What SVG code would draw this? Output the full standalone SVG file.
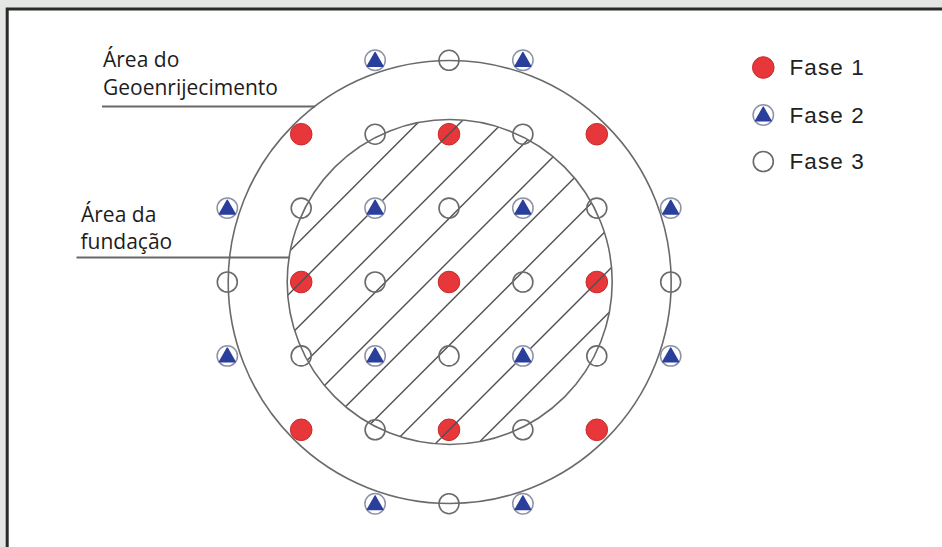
<svg xmlns="http://www.w3.org/2000/svg" width="942" height="547" viewBox="0 0 942 547">
<defs>
<style>
.ring{fill:none;stroke:#6a6a6a;stroke-width:1.6}
.hatch line{stroke:#505050;stroke-width:1.4}
.f1{fill:#e8373a;stroke:#c62b2b;stroke-width:1}
.f3{fill:none;stroke:#6a6a6a;stroke-width:1.6}
.f2c{fill:#fff;stroke:#8d93a6;stroke-width:1.5}
.f2t{fill:#2a3f9c;stroke:#2a3f9c;stroke-width:1.2;stroke-linejoin:round}
.lbl{font-family:"Open Sans","Noto Sans",sans-serif;font-size:21px;fill:#1c1c1c}
.leg{font-family:"Liberation Sans",Arial,sans-serif;font-size:22.5px;fill:#222;letter-spacing:1.1px}
.lead{stroke:#686868;stroke-width:2}
</style>
<clipPath id="innerClip"><circle cx="449.7" cy="282" r="162.5"/></clipPath>
<g id="p1"><circle r="10.8" class="f1"/></g>
<g id="p2"><circle r="10.2" class="f2c"/><path d="M0,-8 L8,6 L-8,6Z" class="f2t"/></g>
<g id="p3"><circle r="10" class="f3"/></g>
</defs>

<g id="frame">
<rect x="0" y="0" width="942" height="547" fill="#e4e6e3"/>
<rect x="7.2" y="9" width="960" height="560" fill="#fff" stroke="#2a2a2a" stroke-width="3"/>
</g>

<g id="area-geoenrijecimento">
<circle class="ring" cx="449.7" cy="282" r="221.5"/>
</g>

<g id="fase1-nodes">
<g id="n-b2"><use href="#p1" x="301.2" y="134.2"/></g>
<g id="n-d2"><use href="#p1" x="449" y="134.2"/></g>
<g id="n-f2"><use href="#p1" x="596.8" y="134.2"/></g>
<g id="n-b4"><use href="#p1" x="301.2" y="282"/></g>
<g id="n-d4"><use href="#p1" x="449" y="282"/></g>
<g id="n-f4"><use href="#p1" x="596.8" y="282"/></g>
<g id="n-b6"><use href="#p1" x="301.2" y="429.8"/></g>
<g id="n-d6"><use href="#p1" x="449" y="429.8"/></g>
<g id="n-f6"><use href="#p1" x="596.8" y="429.8"/></g>
</g>

<g id="area-fundacao">
<g class="hatch" clip-path="url(#innerClip)">
<line x1="200" y1="340.7" x2="700" y2="-159.3"/>
<line x1="200" y1="383" x2="700" y2="-117"/>
<line x1="200" y1="425.3" x2="700" y2="-74.7"/>
<line x1="200" y1="467.6" x2="700" y2="-32.4"/>
<line x1="200" y1="509.9" x2="700" y2="9.9"/>
<line x1="200" y1="552.2" x2="700" y2="52.2"/>
<line x1="200" y1="594.5" x2="700" y2="94.5"/>
<line x1="200" y1="636.8" x2="700" y2="136.8"/>
<line x1="200" y1="679.1" x2="700" y2="179.1"/>
<line x1="200" y1="721.4" x2="700" y2="221.4"/>
</g>
<circle class="ring" cx="449.7" cy="282" r="162.5"/>
</g>

<g id="fase2-nodes">
<g id="n-c1"><use href="#p2" x="375.1" y="60.3"/></g>
<g id="n-e1"><use href="#p2" x="522.9" y="60.3"/></g>
<g id="n-a3"><use href="#p2" x="227.3" y="208.1"/></g>
<g id="n-c3"><use href="#p2" x="375.1" y="208.1"/></g>
<g id="n-e3"><use href="#p2" x="522.9" y="208.1"/></g>
<g id="n-g3"><use href="#p2" x="670.7" y="208.1"/></g>
<g id="n-a5"><use href="#p2" x="227.3" y="355.9"/></g>
<g id="n-c5"><use href="#p2" x="375.1" y="355.9"/></g>
<g id="n-e5"><use href="#p2" x="522.9" y="355.9"/></g>
<g id="n-g5"><use href="#p2" x="670.7" y="355.9"/></g>
<g id="n-c7"><use href="#p2" x="375.1" y="503.7"/></g>
<g id="n-e7"><use href="#p2" x="522.9" y="503.7"/></g>
</g>

<g id="fase3-nodes">
<g id="n-d1"><use href="#p3" x="449" y="60.3"/></g>
<g id="n-c2"><use href="#p3" x="375.1" y="134.2"/></g>
<g id="n-e2"><use href="#p3" x="522.9" y="134.2"/></g>
<g id="n-b3"><use href="#p3" x="301.2" y="208.1"/></g>
<g id="n-d3"><use href="#p3" x="449" y="208.1"/></g>
<g id="n-f3"><use href="#p3" x="596.8" y="208.1"/></g>
<g id="n-a4"><use href="#p3" x="227.3" y="282"/></g>
<g id="n-c4"><use href="#p3" x="375.1" y="282"/></g>
<g id="n-e4"><use href="#p3" x="522.9" y="282"/></g>
<g id="n-g4"><use href="#p3" x="670.7" y="282"/></g>
<g id="n-b5"><use href="#p3" x="301.2" y="355.9"/></g>
<g id="n-d5"><use href="#p3" x="449" y="355.9"/></g>
<g id="n-f5"><use href="#p3" x="596.8" y="355.9"/></g>
<g id="n-c6"><use href="#p3" x="375.1" y="429.8"/></g>
<g id="n-e6"><use href="#p3" x="522.9" y="429.8"/></g>
<g id="n-d7"><use href="#p3" x="449" y="503.7"/></g>
</g>

<g id="connectors">
<line class="lead" x1="102" y1="106.5" x2="315" y2="106.5"/>
<line class="lead" x1="76.5" y1="257.5" x2="289.5" y2="257.5"/>
</g>

<g id="label-geoenrijecimento">
<text class="lbl" x="103" y="66.5">Área do</text>
<text class="lbl" x="103" y="95">Geoenrijecimento</text>
</g>
<g id="label-fundacao">
<text class="lbl" x="81" y="221.5">Área da</text>
<text class="lbl" x="80.5" y="249.3">fundação</text>
</g>

<g id="legend">
<g id="legend-fase1"><use href="#p1" x="763.3" y="67.5"/><text class="leg" x="789.5" y="75.3">Fase 1</text></g>
<g id="legend-fase2"><use href="#p2" x="763.3" y="115"/><text class="leg" x="789.5" y="122.6">Fase 2</text></g>
<g id="legend-fase3"><use href="#p3" x="763.3" y="161.5"/><text class="leg" x="789.5" y="169.3">Fase 3</text></g>
</g>
</svg>
